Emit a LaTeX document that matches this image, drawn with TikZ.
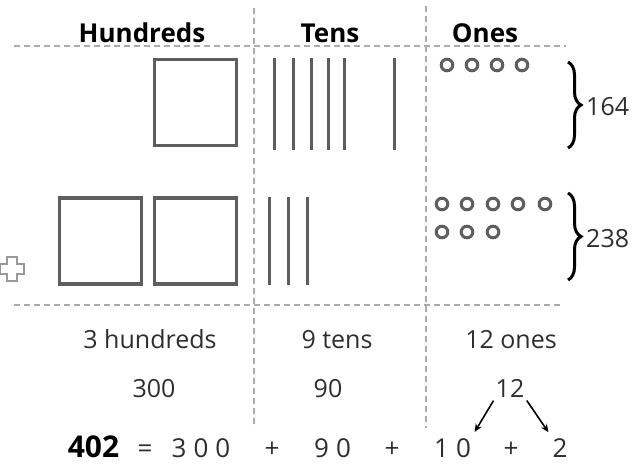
\documentclass[tikz,border=0pt]{standalone}
\usepackage{fontspec}
\setmainfont{Open Sans}
\usetikzlibrary{arrows.meta,positioning,decorations.pathreplacing}
\definecolor{gridgray}{HTML}{ABABAB}
\definecolor{blockgray}{HTML}{5E5E5E}
\definecolor{inkgray}{HTML}{2E2E2E}

\begin{document}
\begin{tikzpicture}[
    x=1pt, y=-1pt,
    font=\fontsize{25}{30}\selectfont,
    head/.style={anchor=base, inner sep=0pt, font=\fontsize{26}{30}\selectfont\bfseries},
    lbl/.style={anchor=base, inner sep=0pt, text=inkgray},
    sum/.style={anchor=base, inner sep=0pt, text=inkgray, font=\fontsize{26}{30}\selectfont},
    grid/.style={gridgray, line width=2pt, dash pattern=on 6pt off 4pt},
    flat/.style={draw=blockgray, line width=3.5pt, minimum width=82pt, minimum height=86pt, inner sep=0pt},
    rod/.style={blockgray, line width=3pt},
    unit/.style={blockgray, line width=3pt},
    brc/.style={decorate, decoration={brace, amplitude=13pt}, line width=3pt},
    arr/.style={-{Stealth[length=8pt,width=7pt]}, line width=1.6pt}
]
\useasboundingbox (0,0) rectangle (634,463);

% place value grid
\draw[grid] (14,46) -- (566,46);
\draw[grid] (14,305) -- (563,305);
\draw[grid] (254,8) -- (254,428);
\draw[grid] (426,6) -- (426,428);

\node[head] (hHead) at (142,42) {Hundreds};
\node[head] (tHead) at (330,42) {Tens};
\node[head] (oHead) at (485,42) {Ones};

% first number
\node[flat] (sqA) at (195.5,102.5) {};
\foreach \x in {274,293,311,328,344,394}
  \draw[rod] (\x,58) -- (\x,150);
\foreach \x in {447,472,497,522}
  \draw[unit] (\x,65) circle (5.8);
\draw[brc] (568,62) -- (568,148);
\node[lbl, anchor=west] (numA) at (586,107) {164};

% second number
\node[flat] (sqB) at (100.5,241) {};
\node[flat] (sqC) at (195.5,241) {};
\foreach \x in {269,288,307}
  \draw[rod] (\x,197) -- (\x,285);
\foreach \x in {442,467,493,518,545}
  \draw[unit] (\x,204) circle (5.8);
\foreach \x in {442,467,493}
  \draw[unit] (\x,232) circle (5.8);
\draw[brc] (568,193) -- (568,280);
\node[lbl, anchor=west] (numB) at (586,239) {238};
\draw[gray!80, line width=1.5pt, line join=miter]
  (7,257) -- (17,257) -- (17,264) -- (24,264) -- (24,274) -- (17,274)
  -- (17,281) -- (7,281) -- (7,274) -- (0,274) -- (0,264) -- (7,264) -- cycle;

% totals
\node[lbl] (hCount) at (150,348) {3 hundreds};
\node[lbl] (tCount) at (337,348) {9 tens};
\node[lbl] (oCount) at (511,348) {12 ones};
\node[lbl] (hValue) at (154,397) {300};
\node[lbl] (tValue) at (328,397) {90};
\node[lbl] (twelve) at (510,397) {12};

\node[sum, font=\fontsize{30}{34}\selectfont\bfseries, text=black] (total) at (93.5,457) {402};
\node[sum] (eqSign) at (145,457) {=};
\node[sum] (partH) at (201,457) {3\hspace{7pt}0\hspace{7pt}0};
\node[sum] (plusA) at (272,457) {+};
\node[sum] (partT) at (332.5,457) {9\hspace{7pt}0};
\node[sum] (plusB) at (392,457) {+};
\node[sum] (partTen) at (452.5,457) {1\hspace{7pt}0};
\node[sum] (plusC) at (511,457) {+};
\node[sum] (partOne) at (560,457) {2};

\draw[arr, shorten <=4pt, shorten >=7pt] (twelve.south west) -- (partTen.north east);
\draw[arr, shorten <=4pt, shorten >=7pt] (twelve.south east) -- (partOne.north west);
\end{tikzpicture}
\end{document}
